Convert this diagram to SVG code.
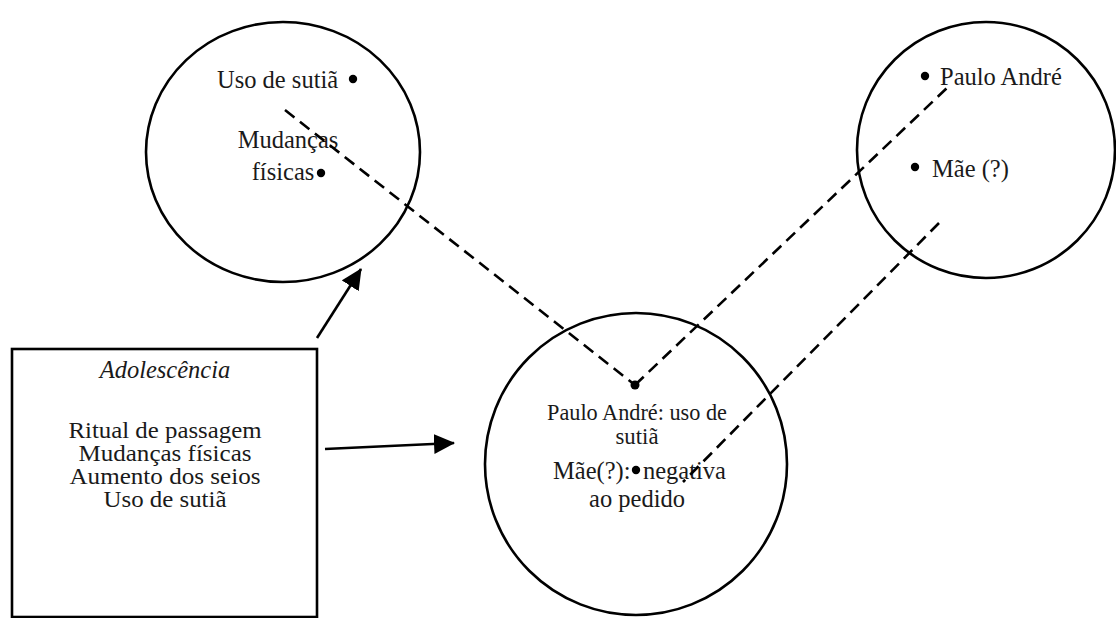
<svg xmlns="http://www.w3.org/2000/svg" width="1116" height="618" viewBox="0 0 1116 618">
  <defs>
    <marker id="arrow" markerUnits="userSpaceOnUse" markerWidth="22" markerHeight="22" refX="20" refY="10" orient="auto">
      <path d="M0,0 L21,10 L0,20 z" fill="#000"/>
    </marker>
    <style>
      .ring { fill: none; stroke: #000; stroke-width: 2.6; }
      .box { fill: #fff; stroke: #000; stroke-width: 2.6; }
      .t { font-size: 24.5px; fill: #1a1a1a; }
      .s { font-size: 23px; }
      .c { text-anchor: middle; }
      .it { font-style: italic; }
      .dot { fill: #000; }
      .dash { fill: none; stroke: #000; stroke-width: 2.6; stroke-dasharray: 12 7; }
      .arr { fill: none; stroke: #000; stroke-width: 2.6; marker-end: url(#arrow); }
    </style>
  </defs>
  <rect width="1116" height="618" fill="#fff"/>

  <g font-family="'Liberation Serif', 'DejaVu Serif', serif">
  <!-- upper left circle: body changes -->
  <g id="circle-mudancas">
    <ellipse class="ring" cx="283" cy="152" rx="137" ry="130"/>
    <text class="t" x="217" y="88">Uso de sutiã</text>
    <circle class="dot" cx="353" cy="79" r="4.2"/>
    <text class="t c" x="288" y="148">Mudanças</text>
    <text class="t c" x="283" y="180">físicas</text>
    <circle class="dot" cx="321" cy="173" r="4.2"/>
  </g>

  <!-- upper right circle: people -->
  <g id="circle-pessoas">
    <ellipse class="ring" cx="986" cy="150" rx="129" ry="128"/>
    <circle class="dot" cx="925" cy="76" r="4.2"/>
    <text class="t" x="940" y="85">Paulo André</text>
    <circle class="dot" cx="915" cy="167" r="4.2"/>
    <text class="t" x="932" y="177">Mãe (?)</text>
  </g>

  <!-- lower circle: the request -->
  <g id="circle-pedido">
    <ellipse class="ring" cx="636" cy="464" rx="151" ry="151"/>
    <circle class="dot" cx="635" cy="385" r="4.5"/>
    <text class="t s c" x="637" y="420" textLength="180" lengthAdjust="spacingAndGlyphs">Paulo André: uso de</text>
    <text class="t s c" x="637" y="444" textLength="43" lengthAdjust="spacingAndGlyphs">sutiã</text>
    <text class="t" x="553" y="479">Mãe(?):</text>
    <circle class="dot" cx="636" cy="470" r="4.2"/>
    <text class="t" x="643" y="479">negativa</text>
    <text class="t c" x="637" y="507">ao pedido</text>
  </g>

  <!-- context box -->
  <g id="box-adolescencia">
    <rect class="box" x="12" y="349" width="305" height="268"/>
    <text class="t c it" x="165" y="378">Adolescência</text>
    <text class="t s c" x="165" y="438" textLength="193" lengthAdjust="spacingAndGlyphs">Ritual de passagem</text>
    <text class="t s c" x="165" y="461" textLength="173" lengthAdjust="spacingAndGlyphs">Mudanças físicas</text>
    <text class="t s c" x="165" y="484" textLength="191" lengthAdjust="spacingAndGlyphs">Aumento dos seios</text>
    <text class="t s c" x="165" y="507" textLength="123" lengthAdjust="spacingAndGlyphs">Uso de sutiã</text>
  </g>
  </g>

  <!-- connectors -->
  <g id="connectors">
    <line class="dash" x1="285" y1="110" x2="635" y2="385"/>
    <line class="dash" x1="635" y1="385" x2="948" y2="87"/>
    <line class="dash" x1="939" y1="223" x2="683" y2="482"/>
    <line class="arr" x1="317" y1="338" x2="361" y2="269"/>
    <line class="arr" x1="325" y1="449" x2="454" y2="443"/>
  </g>
</svg>
